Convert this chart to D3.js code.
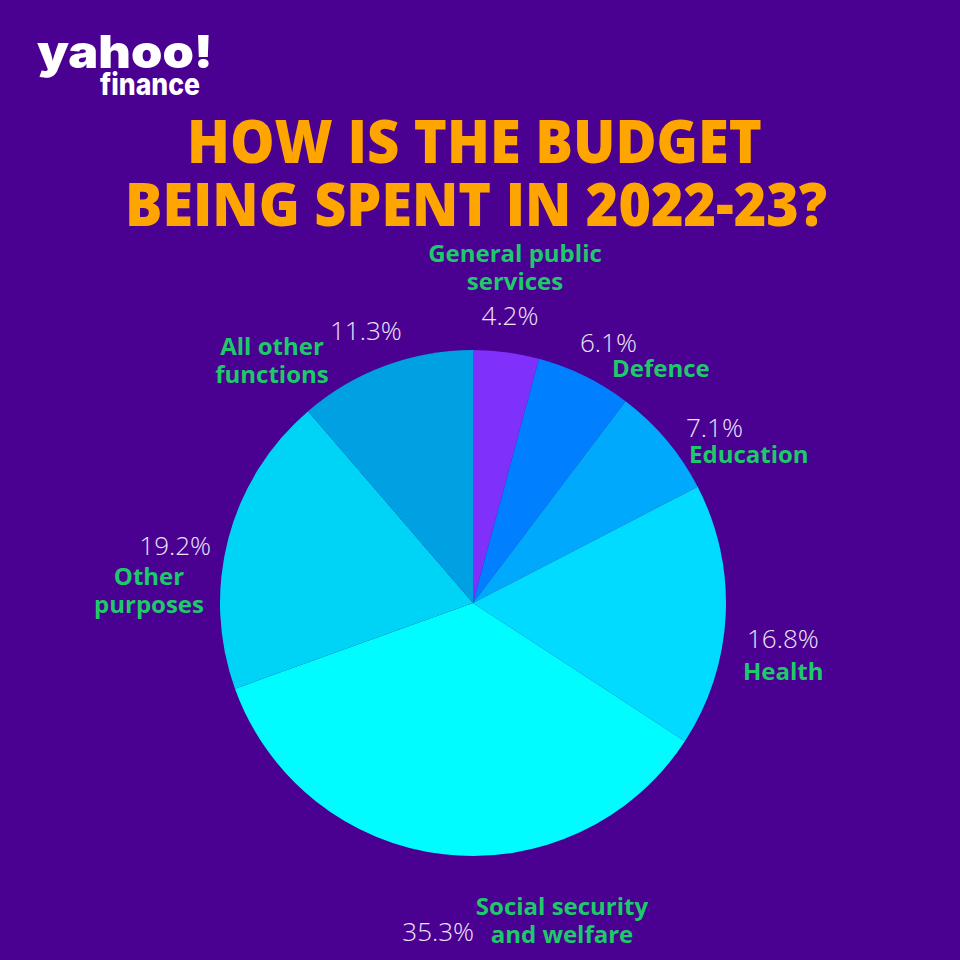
<!DOCTYPE html>
<html><head><meta charset="utf-8">
<script src="https://cdn.jsdelivr.net/npm/d3@7"></script>
<style>html,body{margin:0;padding:0;background:#4a0091;}svg{display:block}</style>
</head><body>
<svg id="c" width="960" height="960"></svg>
<script>
const categories = ["General public services","Defence","Education","Health","Social security and welfare","Other purposes","All other functions"];
const values = [4.2, 6.1, 7.1, 16.8, 35.3, 19.2, 11.3];
const labelLines = [["General public","services"],["Defence"],["Education"],["Health"],["Social security","and welfare"],["Other","purposes"],["All other","functions"]];
const colors = ["#7f30fb","#0080ff","#00a9fb","#00dbff","#00fcff","#00d4f6","#00a1e2"];

// label layout (positions, not data)
const labelLayout = [
  {name:{x:515,y:262,anchor:"middle"}, pct:{x:510,y:325,anchor:"middle"}},
  {name:{x:612,y:377,anchor:"start"}, pct:{x:580,y:352,anchor:"start"}},
  {name:{x:689,y:463,anchor:"start"}, pct:{x:686,y:437,anchor:"start"}},
  {name:{x:743,y:680,anchor:"start"}, pct:{x:747,y:648,anchor:"start"}},
  {name:{x:562,y:915,anchor:"middle"}, pct:{x:474,y:941,anchor:"end"}},
  {name:{x:149,y:585,anchor:"middle"}, pct:{x:211,y:555,anchor:"end"}},
  {name:{x:272,y:355,anchor:"middle"}, pct:{x:330,y:340,anchor:"start"}}
];

const svg = d3.select("#c");
svg.append("rect").attr("width",960).attr("height",960).attr("fill","#4a0091");

// logo
svg.append("text").attr("x",37).attr("y",68).attr("fill","#fff")
  .attr("font-family","Inter, 'Open Sans', sans-serif").attr("font-weight",900)
  .attr("font-size",46).attr("textLength",176).attr("lengthAdjust","spacingAndGlyphs")
  .text("yahoo!");
svg.append("text").attr("x",100).attr("y",95).attr("fill","#fff")
  .attr("font-family","Inter, 'Open Sans', sans-serif").attr("font-weight",800)
  .attr("font-size",30).attr("textLength",100).attr("lengthAdjust","spacingAndGlyphs")
  .text("finance");

// title
const titleLines = ["HOW IS THE BUDGET","BEING SPENT IN 2022-23?"];
const titleX = [187,125], titleW=[575,702], titleY=[163,226];
titleLines.forEach((t,i)=>{
  svg.append("text").attr("x",titleX[i]).attr("y",titleY[i]).attr("fill","#ffa500")
    .attr("font-family","'Open Sans', 'Noto Sans', sans-serif").attr("font-weight",800)
    .attr("font-size",61).attr("textLength",titleW[i]).attr("lengthAdjust","spacingAndGlyphs")
    .text(t);
});

// pie
const cx=473, cy=603, R=253;
const pie = d3.pie().sort(null).value(d=>d)(values);
const arc = d3.arc().innerRadius(0).outerRadius(R);
const g = svg.append("g").attr("transform",`translate(${cx},${cy})`);
g.selectAll("path").data(pie).join("path").attr("d",arc).attr("fill",(d,i)=>colors[i]);

// labels
labelLayout.forEach((L,i)=>{
  const nm = svg.append("text").attr("x",L.name.x).attr("y",L.name.y).attr("text-anchor",L.name.anchor)
    .attr("fill","#1ec96b").attr("font-family","'Open Sans', 'Noto Sans', sans-serif")
    .attr("font-weight",700).attr("font-size",24);
  labelLines[i].forEach((ln,j)=>{
    nm.append("tspan").attr("x",L.name.x).attr("dy",j===0?0:28).text(ln);
  });
  svg.append("text").attr("x",L.pct.x).attr("y",L.pct.y).attr("text-anchor",L.pct.anchor)
    .attr("fill","#ebe4f7").attr("font-family","'Open Sans', 'Noto Sans', sans-serif")
    .attr("font-weight",300).attr("font-size",26)
    .text(values[i].toFixed(1)+"%");
});
</script>
</body></html>
